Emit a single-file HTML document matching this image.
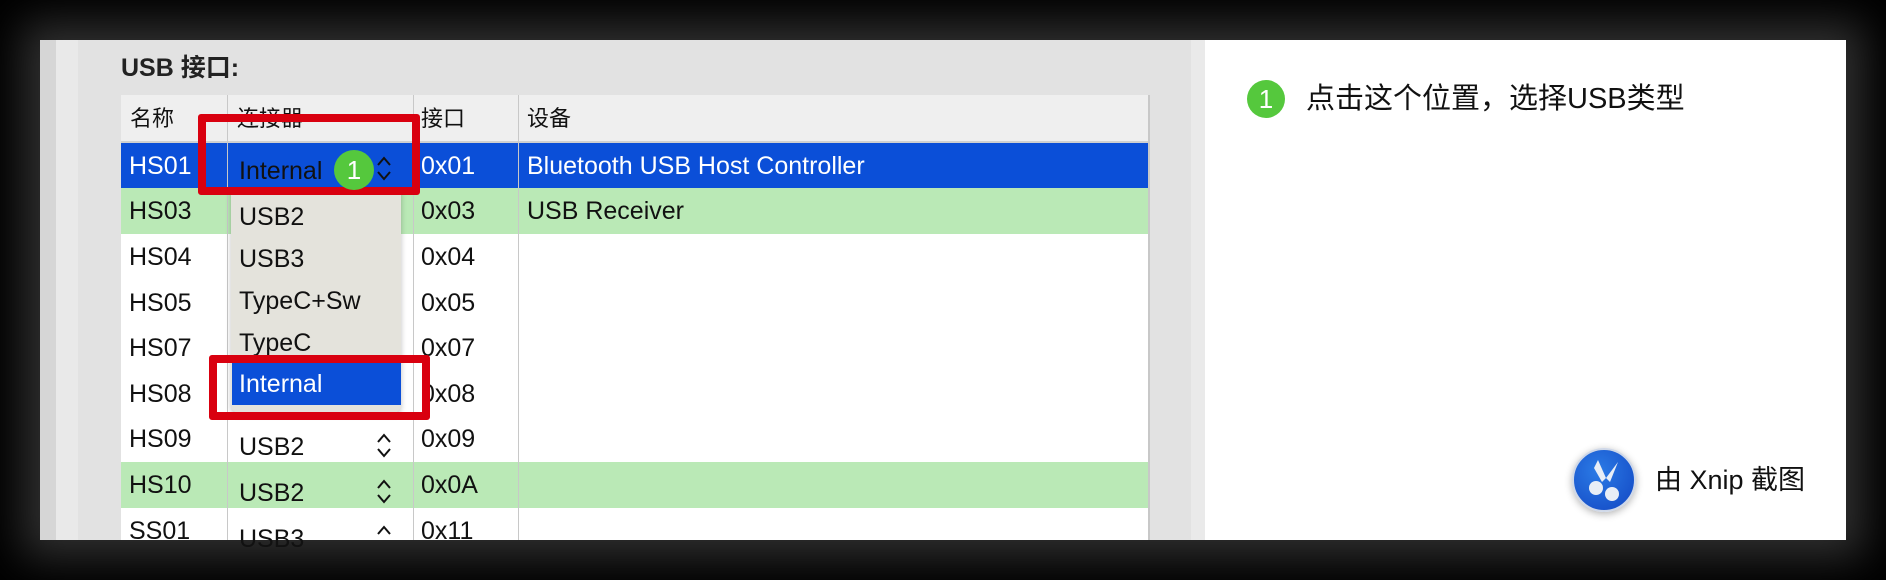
<!DOCTYPE html>
<html><head><meta charset="utf-8"><style>
*{margin:0;padding:0;box-sizing:border-box}
body{width:1886px;height:580px;background:#000;position:relative;overflow:hidden;font-family:"Liberation Sans","Noto Sans CJK SC",sans-serif;color:#111}
.a{position:absolute}
.cell{position:absolute;font-size:25px;white-space:nowrap;line-height:46px}
</style></head><body>
<div class="a" style="left:40px;top:40px;width:1806px;height:500px;box-shadow:0 0 40px 18px rgba(80,80,80,0.6);background:#fff"></div>
<div class="a" style="left:40px;top:40px;width:16px;height:500px;background:#d6d6d6"></div>
<div class="a" style="left:56px;top:40px;width:22px;height:500px;background:#e9e9e9"></div>
<div class="a" style="left:78px;top:40px;width:1113px;height:500px;background:#e2e2e2"></div>
<div class="a" style="left:1191px;top:40px;width:14px;height:500px;background:#eaeaea"></div>
<div class="a" style="left:121px;top:48px;font-size:25px;font-weight:bold;color:#222">USB 接口:</div>
<!-- table -->
<div class="a" style="left:121px;top:95px;width:1028px;height:445px;background:#fff"></div>
<div class="a" style="left:121px;top:95px;width:1028px;height:48px;background:#efefef;border-bottom:2px solid #d0d0d0"></div>
<div class="a" style="left:121px;top:143px;width:1028px;height:45px;background:#0b4fd8"></div>
<div class="a" style="left:121px;top:188px;width:1028px;height:46px;background:#bae9b6"></div>
<div class="a" style="left:121px;top:462px;width:1028px;height:46px;background:#bae9b6"></div>
<div class="a" style="left:227px;top:95px;width:1px;height:445px;background:#c8c8c8"></div>
<div class="a" style="left:413px;top:95px;width:1px;height:445px;background:#c8c8c8"></div>
<div class="a" style="left:518px;top:95px;width:1px;height:445px;background:#c8c8c8"></div>
<div class="a" style="left:1148px;top:95px;width:2px;height:445px;background:#c8c8c8"></div>
<div class="cell" style="left:130px;top:96px;font-size:22px">名称</div>
<div class="cell" style="left:237px;top:96px;font-size:22px">连接器</div>
<div class="cell" style="left:421px;top:96px;font-size:22px">接口</div>
<div class="cell" style="left:527px;top:96px;font-size:22px">设备</div>
<div class="cell" style="left:129px;top:143px;color:#fff">HS01</div>
<div class="cell" style="left:239px;top:148px;color:#111">Internal</div>
<div class="cell" style="left:421px;top:143px;color:#fff">0x01</div>
<div class="cell" style="left:527px;top:143px;color:#fff">Bluetooth USB Host Controller</div>
<div class="cell" style="left:129px;top:188px">HS03</div><div class="cell" style="left:421px;top:188px">0x03</div><div class="cell" style="left:527px;top:188px">USB Receiver</div>
<div class="cell" style="left:129px;top:234px">HS04</div><div class="cell" style="left:421px;top:234px">0x04</div>
<div class="cell" style="left:129px;top:280px">HS05</div><div class="cell" style="left:421px;top:280px">0x05</div>
<div class="cell" style="left:129px;top:325px">HS07</div><div class="cell" style="left:421px;top:325px">0x07</div>
<div class="cell" style="left:129px;top:371px">HS08</div><div class="cell" style="left:421px;top:371px">0x08</div>
<div class="cell" style="left:129px;top:416px">HS09</div><div class="cell" style="left:239px;top:424px">USB2</div><div class="cell" style="left:421px;top:416px">0x09</div>
<div class="cell" style="left:129px;top:462px">HS10</div><div class="cell" style="left:239px;top:470px">USB2</div><div class="cell" style="left:421px;top:462px">0x0A</div>
<div class="cell" style="left:129px;top:508px">SS01</div><div class="cell" style="left:239px;top:516px">USB3</div><div class="cell" style="left:421px;top:508px">0x11</div>
<svg class="a" style="left:376px;top:155px" width="16" height="28"><path d="M2 10 L8 3 L14 10 M2 17 L8 24 L14 17" fill="none" stroke="#111" stroke-width="2"/></svg>
<svg class="a" style="left:376px;top:432px" width="16" height="28"><path d="M2 10 L8 3 L14 10 M2 17 L8 24 L14 17" fill="none" stroke="#111" stroke-width="2"/></svg>
<svg class="a" style="left:376px;top:478px" width="16" height="28"><path d="M2 10 L8 3 L14 10 M2 17 L8 24 L14 17" fill="none" stroke="#111" stroke-width="2"/></svg>
<svg class="a" style="left:376px;top:524px" width="16" height="16"><path d="M2 10 L8 3 L14 10" fill="none" stroke="#111" stroke-width="2"/></svg>
<!-- dropdown -->
<div class="a" style="left:231px;top:190px;width:170px;height:223px;background:#e4e3dc;border-radius:0 0 8px 8px;box-shadow:0 2px 6px rgba(0,0,0,0.25)"></div>
<div class="cell" style="left:239px;top:194px">USB2</div>
<div class="cell" style="left:239px;top:236px">USB3</div>
<div class="cell" style="left:239px;top:278px">TypeC+Sw</div>
<div class="cell" style="left:239px;top:320px">TypeC</div>
<div class="a" style="left:232px;top:363px;width:169px;height:42px;background:#0b4fd8"></div>
<div class="cell" style="left:239px;top:361px;color:#fff">Internal</div>
<!-- red boxes -->
<div class="a" style="left:198px;top:114px;width:222px;height:81px;border:8px solid #d9000f;border-radius:3px"></div>
<div class="a" style="left:209px;top:355px;width:221px;height:65px;border:8px solid #d9000f;border-radius:3px"></div>
<!-- badges -->
<div class="a" style="left:334px;top:150px;width:40px;height:40px;border-radius:50%;background:#55c83d;color:#fff;font-size:26px;text-align:center;line-height:40px">1</div>
<div class="a" style="left:1247px;top:80px;width:38px;height:38px;border-radius:50%;background:#55c83d;color:#fff;font-size:26px;text-align:center;line-height:38px">1</div>
<div class="a" style="left:1306px;top:80px;font-size:29px;line-height:38px;color:#111">点击这个位置，选择USB类型</div>
<!-- xnip -->
<div class="a" style="left:1572px;top:448px;width:64px;height:64px;border-radius:50%;background:radial-gradient(circle at 40% 35%,#2b7be6,#1246c2);box-shadow:0 2px 8px rgba(0,0,0,0.3);border:2px solid #cfd8e8"></div>
<svg class="a" style="left:1572px;top:448px" width="64" height="64"><g fill="#e8eef6"><path d="M26 12 L34 30 L30 34 L22 20Z"/><path d="M46 14 L38 34 L34 30Z"/><circle cx="24" cy="40" r="7"/><circle cx="40" cy="46" r="7"/></g></svg>
<div class="a" style="left:1655px;top:462px;font-size:27px;line-height:36px;color:#111">由 Xnip 截图</div>
</body></html>
